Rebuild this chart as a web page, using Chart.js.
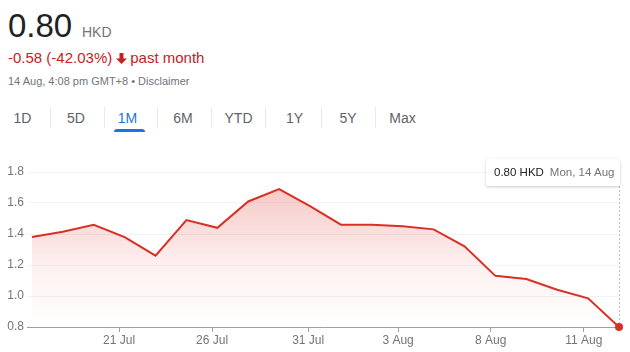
<!DOCTYPE html>
<html>
<head>
<meta charset="utf-8">
<script src="https://cdn.jsdelivr.net/npm/chart.js@4.4.0/dist/chart.umd.min.js"></script>
<style>
  body { margin: 0; background: #fff; font-family: Arial, "Liberation Sans", sans-serif; }
  #page { position: relative; width: 630px; height: 352px; overflow: hidden; }
  .abs { position: absolute; white-space: nowrap; }
  #price { left: 8px; top: 9px; font-size: 33px; line-height: 33px; color: #202124; }
  #cur { left: 82px; top: 25px; font-size: 14px; line-height: 14px; color: #70757a; }
  #change { left: 8px; top: 50px; font-size: 15px; line-height: 15px; color: #c5221f; }
  #change svg { vertical-align: -1px; margin: 0 3px 0 4px; }
  #stamp { left: 8px; top: 76px; font-size: 11px; line-height: 11px; color: #70757a; }
  .tab { top: 111px; font-size: 14px; line-height: 14px; color: #5f6368; transform: translateX(-50%); }
  .tab.on { color: #1a73e8; }
  .sep { top: 107px; width: 1px; height: 21px; background: #e8eaed; }
  #bar { left: 114px; top: 129px; width: 31px; height: 3px; background: #1a73e8; border-radius: 3px 3px 0 0; }
  #wrap { left: 0; top: 150px; width: 630px; height: 202px; }
  #tip { left: 486px; top: 159px; width: 134px; height: 27px; background: #fff; border-radius: 2px;
         box-shadow: 0 1px 3px rgba(0,0,0,0.22); font-size: 11.5px; line-height: 27px; box-sizing: border-box; padding-left: 8px; }
  #tip b { font-weight: normal; color: #202124; }
  #tip span { color: #70757a; margin-left: 6px; }
</style>
</head>
<body>
<div id="page">
  <div id="price" class="abs"></div>
  <div id="cur" class="abs">HKD</div>
  <div id="change" class="abs"></div>
  <div id="stamp" class="abs">14 Aug, 4:08 pm GMT+8 • Disclaimer</div>
  <div id="tabs"></div>
  <div id="bar" class="abs"></div>
  <div id="wrap" class="abs"><canvas id="chart" width="630" height="202"></canvas></div>
  <div id="tip" class="abs"></div>
</div>
<script>
// trading days, 18 Jul .. 14 Aug
const days = ['18 Jul', '19 Jul', '20 Jul', '21 Jul', '24 Jul', '25 Jul', '26 Jul', '27 Jul', '28 Jul', '31 Jul',
              '1 Aug', '2 Aug', '3 Aug', '4 Aug', '7 Aug', '8 Aug', '9 Aug', '10 Aug', '11 Aug', 'Mon, 14 Aug'];
const prices = [1.38, 1.415, 1.46, 1.38, 1.26, 1.49, 1.44, 1.61, 1.69, 1.58,
                1.46, 1.46, 1.45, 1.43, 1.32, 1.13, 1.11, 1.04, 0.985, 0.80];

// x tick labels sit a little before each day's closing point
const tickPos = [2.82, 5.83, 8.94, 11.85, 14.85, 17.86];
const tickLabels = ['21 Jul', '26 Jul', '31 Jul', '3 Aug', '8 Aug', '11 Aug'];
const yTicks = [0.8, 1.0, 1.2, 1.4, 1.6, 1.8];

const tabs = ['1D', '5D', '1M', '6M', 'YTD', '1Y', '5Y', 'Max'];
const tabX = [22.5, 76, 127.5, 183, 238.5, 294.5, 348, 402.5];
const sepX = [50, 104, 157, 211, 265, 321, 375];

const font = 'Arial, "Liberation Sans", sans-serif';
const red = '#d93025';

// header
const last = prices[prices.length - 1];
const first = prices[0];
const diff = last - first;
document.getElementById('price').textContent = last.toFixed(2);
document.getElementById('change').innerHTML =
  diff.toFixed(2) + ' (' + (diff / first * 100).toFixed(2) + '%)' +
  '<svg width="11" height="11" viewBox="0 0 11 11"><path d="M3.5 0h4v5.5h3.5L5.5 11 0 5.5h3.5z" fill="#c5221f"/></svg>past month';
document.getElementById('tip').innerHTML = '<b>' + last.toFixed(2) + ' HKD</b><span>' + days[days.length - 1] + '</span>';

const tabsEl = document.getElementById('tabs');
tabs.forEach((t, i) => {
  const d = document.createElement('div');
  d.className = 'abs tab' + (t === '1M' ? ' on' : '');
  d.style.left = tabX[i] + 'px';
  d.textContent = t;
  tabsEl.appendChild(d);
});
sepX.forEach(x => {
  const d = document.createElement('div');
  d.className = 'abs sep';
  d.style.left = x + 'px';
  tabsEl.appendChild(d);
});

// dotted line from the tooltip down to the last point
const markerLine = {
  id: 'markerLine',
  beforeDatasetsDraw(chart) {
    const x = Math.round(chart.scales.x.getPixelForValue(prices.length - 1)) + 0.5;
    const y = chart.scales.y.getPixelForValue(last);
    const ctx = chart.ctx;
    ctx.save();
    ctx.strokeStyle = '#bdc1c6';
    ctx.lineWidth = 1;
    ctx.setLineDash([2, 2]);
    ctx.beginPath();
    ctx.moveTo(x, 36);
    ctx.lineTo(x, y);
    ctx.stroke();
    ctx.restore();
  }
};

new Chart(document.getElementById('chart'), {
  type: 'line',
  data: {
    datasets: [{
      data: prices.map((v, i) => ({ x: i, y: v })),
      borderColor: red,
      borderWidth: 2,
      tension: 0,
      fill: 'start',
      backgroundColor: (c) => {
        const area = c.chart.chartArea;
        if (!area) return null;
        const g = c.chart.ctx.createLinearGradient(0, area.top, 0, area.bottom);
        g.addColorStop(0, 'rgba(217,48,37,0.30)');
        g.addColorStop(0.6, 'rgba(217,48,37,0.07)');
        g.addColorStop(1, 'rgba(217,48,37,0)');
        return g;
      },
      pointRadius: (c) => (c.dataIndex === prices.length - 1 ? 4 : 0),
      pointBackgroundColor: red,
      pointBorderWidth: 0,
      clip: false
    }]
  },
  options: {
    responsive: false,
    animation: false,
    layout: { padding: { top: 22, right: 11, left: 0, bottom: 0 } },
    plugins: { legend: { display: false }, tooltip: { enabled: false } },
    scales: {
      x: {
        type: 'linear',
        min: -0.16,
        max: 19,
        afterBuildTicks: (s) => { s.ticks = tickPos.map(v => ({ value: v })); },
        afterFit: (s) => { s.height = 25; },
        ticks: {
          callback: (v, i) => tickLabels[i],
          color: '#70757a',
          font: { size: 12, family: font },
          padding: 1,
          maxRotation: 0,
          autoSkip: false
        },
        grid: { drawOnChartArea: false, drawTicks: true, tickLength: 5, color: '#9aa0a6' },
        border: { color: '#9aa0a6' }
      },
      y: {
        min: 0.8,
        max: 1.8,
        afterBuildTicks: (s) => { s.ticks = yTicks.map(v => ({ value: v })); },
        afterFit: (s) => { s.width = 27; },
        ticks: {
          callback: (v) => v.toFixed(1),
          color: '#70757a',
          font: { size: 12, family: font },
          padding: 3
        },
        grid: { color: '#f1f3f4', drawTicks: false },
        border: { display: false }
      }
    }
  },
  plugins: [markerLine]
});
</script>
</body>
</html>
